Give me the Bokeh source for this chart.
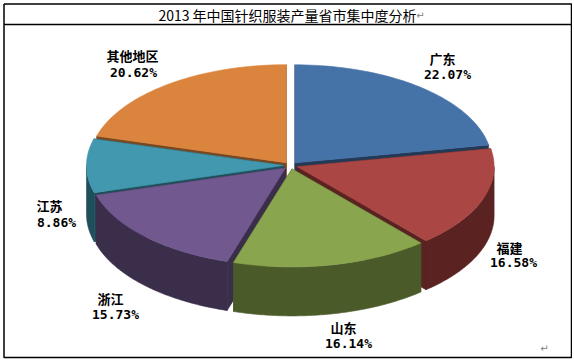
import numpy as np
from bokeh.plotting import figure
from bokeh.models import Range1d, ColumnDataSource
from bokeh.core.properties import value
from bokeh.embed import file_html
from bokeh.resources import INLINE

# ---------------- data ----------------
chart_title = "2013 年中国针织服装产量省市集中度分析"
regions = ["广东", "福建", "山东", "浙江", "江苏", "其他地区"]
shares = [22.07, 16.58, 16.14, 15.73, 8.86, 20.62]
pct_labels = ["22.07%", "16.58%", "16.14%", "15.73%", "8.86%", "20.62%"]

# ---------------- styles / layout ----------------
top_colors = ["#4572A7", "#AA4643", "#89A54E", "#71588F", "#4198AF", "#DB843D"]
side_colors = ["#223a57", "#5a2220", "#4a5a28", "#3a2e4b", "#1f4f5b", "#7a4820"]
name_x = [442, 509, 343, 110, 49, 132]
name_y = [58, 247, 327, 298, 205, 55]
pct_x = [447, 513, 348, 115, 56, 133]
pct_y = [74, 262, 343, 314, 222, 72]

cx, cy, rx, ry, depth, explode = 290.0, 165.0, 197.0, 98.0, 49.0, 7.0

p = figure(width=572, height=360, x_range=Range1d(0, 572), y_range=Range1d(360, 0),
           output_backend="svg", toolbar_location=None, min_border=0,
           x_axis_type=None, y_axis_type=None)
p.grid.visible = False
p.outline_line_color = None
p.background_fill_color = "white"
p.border_fill_color = "white"

# ---------------- 3D pie geometry ----------------
frac = np.array(shares) / np.sum(shares)
ends = np.cumsum(frac) * 2 * np.pi
starts = ends - frac * 2 * np.pi
mids = (starts + ends) / 2

order = np.argsort(-np.cos(mids))  # back slices first

xs, ys, fills = [], [], []
for i in order:
    s, e, m = starts[i], ends[i], mids[i]
    ox = cx + explode * np.sin(m)
    oy = cy - explode * np.cos(m) * ry / rx
    # radial walls
    for a in (s, e):
        rxp, ryp = ox + rx * np.sin(a), oy - ry * np.cos(a)
        xs.append([ox, rxp, rxp, ox])
        ys.append([oy, ryp, ryp + depth, oy + depth])
        fills.append(side_colors[i])
    # front outer wall
    fs, fe = max(s, np.pi / 2), min(e, 3 * np.pi / 2)
    if fe > fs:
        t = np.linspace(fs, fe, 80)
        bx = ox + rx * np.sin(t)
        by = oy - ry * np.cos(t)
        xs.append(list(bx) + list(bx[::-1]))
        ys.append(list(by) + list((by + depth)[::-1]))
        fills.append(side_colors[i])
    # top face
    n = max(int((e - s) / (2 * np.pi) * 240), 8)
    t = np.linspace(s, e, n)
    xs.append([ox] + list(ox + rx * np.sin(t)))
    ys.append([oy] + list(oy - ry * np.cos(t)))
    fills.append(top_colors[i])

src = ColumnDataSource(dict(xs=xs, ys=ys, fill=fills))
p.patches("xs", "ys", source=src, fill_color="fill", line_color="fill", line_width=0.6)

# ---------------- labels ----------------
p.text(x=name_x, y=name_y, text=regions, text_font=value("Noto Sans CJK SC"),
       text_font_style="bold", text_font_size="13px", text_align="center",
       text_baseline="middle", text_color="black")
p.text(x=pct_x, y=pct_y, text=pct_labels, text_font=value("DejaVu Sans Mono"),
       text_font_style="bold", text_font_size="13px", text_align="center",
       text_baseline="middle", text_color="black")

# ---------------- table frame & title ----------------
p.line(x=[3.5, 571, 571, 3.5, 3.5], y=[3.5, 3.5, 357, 357, 3.5],
       line_color="black", line_width=1.5)
p.line(x=[3.5, 571], y=[24, 24], line_color="black", line_width=1.5)
p.text(x=[287], y=[14], text=[chart_title], text_font=value("Noto Sans CJK SC"),
       text_font_size="14px", text_align="center", text_baseline="middle",
       text_color="black")
p.text(x=[420, 544], y=[15, 348], text=["↵", "↵"], text_font=value("DejaVu Sans"),
       text_font_size="10px", text_align="center", text_baseline="middle",
       text_color="#808080")

open("out.html", "w").write(file_html(p, INLINE))
